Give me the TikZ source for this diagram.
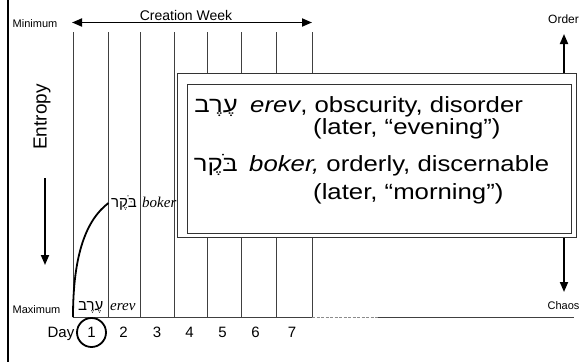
\documentclass[tikz,border=0pt]{standalone}
\usepackage{fontspec}
\setmainfont{Liberation Sans}
\newfontfamily\hebfont[Script=Hebrew]{Liberation Sans}
\newfontfamily\timesfont{Liberation Serif}
\TeXXeTstate=1
\usetikzlibrary{arrows.meta}
\newcommand{\wide}[1]{\scalebox{1.17}[1]{#1}}
\begin{document}
\begin{tikzpicture}[x=1pt,y=-1pt,
  dayline/.style={line width=0.9pt, draw=black!75},
  thickarrow/.style={line width=1.8pt, -{Triangle[length=10pt,width=8pt]}},
  lbl/.style={inner sep=0pt, font=\fontsize{11}{13}\selectfont},
  daynum/.style={inner sep=0pt, anchor=base, font=\fontsize{15}{18}\selectfont},
  boxtxt/.style={inner sep=0pt, anchor=base west, font=\fontsize{22}{26}\selectfont},
  boxhebtxt/.style={inner sep=0pt, anchor=base east, font=\hebfont\fontsize{22}{26}\selectfont},
  smallheb/.style={inner sep=0pt, anchor=base west, font=\hebfont\fontsize{15}{18}\selectfont},
  smallit/.style={inner sep=0pt, anchor=base west, font=\timesfont\itshape\fontsize{15}{18}\selectfont},
  framebox/.style={draw=black!80, line width=1pt}
]
\useasboundingbox (0,0) rectangle (586,362);
\fill[white] (0,0) rectangle (586,362);
% left border
\draw[line width=2pt] (8,0) -- (8,362);
% day lines
\foreach \x in {73,108.5,140.5,174,207.5,241.5,276,312}
  \draw[dayline] (\x,32) -- (\x,317);
% baseline
\coordinate (b0) at (73,317);
\coordinate (b1) at (312,317);
\coordinate (b2) at (378,317);
\coordinate (b3) at (574,317);
\draw[dayline] (b0) -- (b1);
\draw[dayline, draw=black!45, dash pattern=on 3pt off 1.5pt] (b1) -- (b2);
\draw[dayline] (b2) -- (b3);
% creation week arrow
\coordinate (cwL) at (72,22.5);
\coordinate (cwR) at (312,22.5);
\draw[line width=1.8pt, {Triangle[length=10pt,width=8pt]}-{Triangle[length=10pt,width=8pt]}] (cwL) -- (cwR);
\node[inner sep=0pt, anchor=base, font=\fontsize{14}{17}\selectfont] (cw) at (186,20.5) {Creation Week};
% labels
\node[lbl, anchor=base west] (min) at (12.5,27) {Minimum};
\node[lbl, anchor=base west] (max) at (12.5,313) {Maximum};
\node[lbl, anchor=base, font=\fontsize{12}{14}\selectfont] (order) at (563.5,23) {Order};
\node[lbl, anchor=base] (chaos) at (563.5,309) {Chaos};
\node[inner sep=0pt, rotate=90, font=\fontsize{19}{22}\selectfont] (entropy) at (42,117) {Entropy};
% entropy arrow
\coordinate (eA) at (45,178);
\coordinate (eB) at (45,265);
\draw[thickarrow] (eA) -- (eB);
% order / chaos arrows
\coordinate (oA) at (564,73);
\coordinate (oB) at (564,34);
\draw[thickarrow] (oA) -- (oB);
\coordinate (cA) at (564,237);
\coordinate (cB) at (564,292);
\draw[thickarrow] (cA) -- (cB);
% curve
\coordinate (cv0) at (73,317);
\coordinate (cv1) at (108.5,203);
\draw[line width=1.8pt] (cv0) .. controls (73,255) and (86,220) .. (cv1);
% small hebrew labels
\node[smallheb] (bokerheb) at (111,207) {\beginR בֹּקֶר\endR};
\node[smallit] (bokerlat) at (142,207) {boker};
\node[smallheb] (erevheb) at (78,310) {\beginR עֶרֶב\endR};
\node[smallit] (erevlat) at (110,310) {erev};
% day numbers
\node[daynum, anchor=base east] (day) at (74.5,337) {Day};
\node[daynum] (d1) at (91.5,337) {1};
\node[daynum] (d2) at (123.5,337) {2};
\node[daynum] (d3) at (157,337) {3};
\node[daynum] (d4) at (189.5,337) {4};
\node[daynum] (d5) at (222.5,337) {5};
\node[daynum] (d6) at (255.5,337) {6};
\node[daynum] (d7) at (292,337) {7};
\draw[line width=1.8pt] (91.5,332.5) circle[radius=14.5];
% boxes
\draw[framebox, fill=white] (177,73) rectangle (576,237);
\draw[framebox] (187,84) rectangle (571,233);
% box text
\node[boxhebtxt] (h1) at (238,112) {\wide{\beginR עֶרֶב\endR}};
\node[boxtxt] (t1) at (250,112) {\wide{\itshape erev\upshape, obscurity, disorder}};
\node[boxtxt] (t2) at (313,134) {\wide{(later, “evening”)}};
\node[boxhebtxt] (h2) at (238,171) {\wide{\beginR בֹּקֶר\endR}};
\node[boxtxt] (t3) at (249,171) {\wide{\itshape boker,\upshape{} orderly, discernable}};
\node[boxtxt] (t4) at (313,199) {\wide{(later, “morning”)}};
\end{tikzpicture}
\end{document}
